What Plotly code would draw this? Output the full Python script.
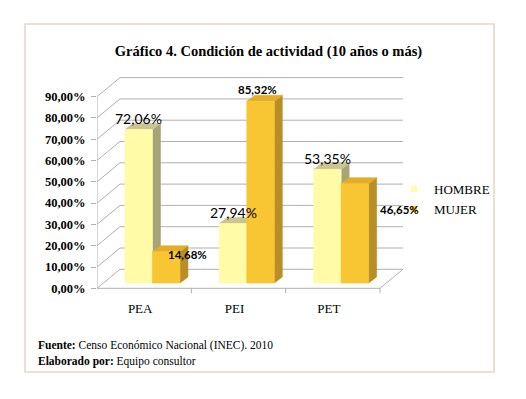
import plotly.graph_objects as go

# ---------------- data ----------------
categories = ["PEA", "PEI", "PET"]
series_names = ["HOMBRE", "MUJER"]
hombre = [72.06, 27.94, 53.35]
mujer = [14.68, 85.32, 46.65]
y_tick_values = [0, 10, 20, 30, 40, 50, 60, 70, 80, 90]
y_tick_labels = ["0,00%", "10,00%", "20,00%", "30,00%", "40,00%",
                 "50,00%", "60,00%", "70,00%", "80,00%", "90,00%"]
title_text = "<b>Gráfico 4. Condición de actividad (10 años o más)</b>"
source_text = "<b>Fuente:</b> Censo Económico Nacional (INEC). 2010"
author_text = "<b>Elaborado por:</b> Equipo consultor"

# ---------------- geometry / style ----------------
OFF = 8               # page body margin (figure starts at page px 8,8)
W, H = 526 - 2 * OFF, 399 - 2 * OFF
# plot area in page pixels
PL, PR, PT, PB = 97, 410, 70, 296
L, T = PL - OFF, PT - OFF
R, B = W - (PR - OFF), H - (PB - OFF)
PLOT_W = PR - PL
PLOT_H = PB - PT
PX_X = 94.33          # px per category unit
PX_Y = 2.13           # px per percent
ZERO_PX = 288.3       # page y pixel of 0 %
X_RANGE = [-0.5, -0.5 + PLOT_W / PX_X]
Y_RANGE = [-(PB - ZERO_PX) / PX_Y, (ZERO_PX - PT) / PX_Y]

WALL_DX, WALL_DY = 23 / PX_X, 19 / PX_Y        # back-wall depth
BAR_W = 27.5 / PX_X
BAR_SHIFT = 8.3 / PX_X
BAR_BASE = 5.3 / PX_Y
BAR_DX, BAR_DY = 8 / PX_X, 6 / PX_Y
GRID = "#b0b0b0"
SERIF = "Liberation Serif"

COLORS = {
    "HOMBRE": {"front": "#fffba6", "top": "#cbc690", "side": "#a8a479"},
    "MUJER": {"front": "#f8c633", "top": "#e3ad2a", "side": "#b88f26"},
}
LABEL_SHIFT = {
    "HOMBRE": [(0, 11), (0, 11), (0, 11)],
    "MUJER": [(21, -3), (-3, 12), (45, -26)],
}
LABEL_FONT = {
    "HOMBRE": dict(family="Lato", size=14, color="#000000"),
    "MUJER": dict(family="Lato", size=11.5, color="#000000", weight="bold"),
}


def px_x(px):
    return (px - PL) / PLOT_W


def px_y(py):
    return (PB - py) / PLOT_H


fig = go.Figure()


def poly(xs, ys, color):
    fig.add_trace(go.Scatter(
        x=xs + [xs[0]], y=ys + [ys[0]], mode="lines", fill="toself",
        fillcolor=color, line=dict(color=color, width=0.6),
        hoverinfo="skip", showlegend=False))


def line(xs, ys):
    fig.add_trace(go.Scatter(
        x=xs, y=ys, mode="lines", line=dict(color=GRID, width=1),
        hoverinfo="skip", showlegend=False))


# back wall gridlines + left wall diagonals
x_front_left = -0.5
x_front_right = len(categories) - 0.5
for v in y_tick_values:
    line([x_front_left, x_front_left + WALL_DX, x_front_right + WALL_DX],
         [v, v + WALL_DY, v + WALL_DY])
# front vertical axis
line([x_front_left, x_front_left], [0, y_tick_values[-1]])
# floor front edge + right diagonal
line([x_front_left, x_front_right, x_front_right + WALL_DX], [0, 0, WALL_DY])
# category tick marks on the floor
for i in range(len(categories)):
    line([i + 0.5, i + 0.5], [0, -5 / PX_Y])

# bars (3D boxes)
for i in range(len(categories)):
    for name, vals in zip(series_names, [hombre, mujer]):
        v = vals[i]
        c = COLORS[name]
        if name == "HOMBRE":
            x0, x1 = i + BAR_SHIFT - BAR_W, i + BAR_SHIFT
        else:
            x0, x1 = i + BAR_SHIFT, i + BAR_SHIFT + BAR_W
        b, t = BAR_BASE, BAR_BASE + v
        poly([x1, x1 + BAR_DX, x1 + BAR_DX, x1],
             [b, b + BAR_DY, t + BAR_DY, t], c["side"])
        poly([x0, x1, x1 + BAR_DX, x0 + BAR_DX],
             [t, t, t + BAR_DY, t + BAR_DY], c["top"])
        poly([x0, x1, x1, x0], [b, b, t, t], c["front"])

# data labels
annotations = []
for name, vals in zip(series_names, [hombre, mujer]):
    for i, v in enumerate(vals):
        if name == "HOMBRE":
            xc = i + BAR_SHIFT - BAR_W / 2
        else:
            xc = i + BAR_SHIFT + BAR_W / 2
        dx, dy = LABEL_SHIFT[name][i]
        annotations.append(dict(
            x=xc, y=BAR_BASE + v, xref="x", yref="y",
            text=f"{v:.2f}".replace(".", ",") + "%",
            showarrow=False, xanchor="center", yanchor="middle",
            xshift=dx, yshift=dy, font=LABEL_FONT[name]))

# legend entries
for name in series_names:
    fig.add_trace(go.Scatter(
        x=[None], y=[None], mode="markers", name=name,
        marker=dict(symbol="square", size=6, color=COLORS[name]["front"],
                    line=dict(width=0))))

# footer notes
for txt, yy in [(source_text, 345), (author_text, 361)]:
    annotations.append(dict(x=px_x(36), y=px_y(yy), xref="paper", yref="paper",
                            text=txt, showarrow=False, xanchor="left",
                            yanchor="middle",
                            font=dict(family=SERIF, size=11.5, color="#000")))

shapes = [dict(type="rect", xref="paper", yref="paper",
               x0=px_x(25), x1=px_x(494), y0=px_y(372), y1=px_y(24),
               line=dict(color="#e6d6c6", width=1.5), fillcolor="rgba(0,0,0,0)",
               layer="below")]

fig.update_layout(
    width=W, height=H,
    margin=dict(l=L, r=R, t=T, b=B, autoexpand=False),
    font=dict(family=SERIF, color="#000"),
    paper_bgcolor="white", plot_bgcolor="rgba(0,0,0,0)",
    title=dict(text=title_text, x=px_x(268.5), xref="paper", xanchor="center",
               y=1 - (50.5 - OFF) / H, yref="container", yanchor="middle",
               font=dict(family=SERIF, size=14.5, color="#000")),
    xaxis=dict(range=X_RANGE, tickvals=list(range(len(categories))),
               ticktext=categories, showgrid=False, zeroline=False,
               showline=False, ticks="", ticklabelstandoff=3,
               ticklabelshift=-4,
               tickfont=dict(family=SERIF, size=13, color="#000"),
               fixedrange=True),
    yaxis=dict(range=Y_RANGE, tickvals=y_tick_values, ticktext=y_tick_labels,
               showgrid=False, zeroline=False, showline=False,
               ticks="outside", ticklen=5, tickcolor=GRID,
               ticklabelstandoff=3,
               tickfont=dict(family=SERIF, size=12.5, color="#000",
                             weight="bold"),
               fixedrange=True),
    legend=dict(x=px_x(394), y=px_y(174), xanchor="left", yanchor="top",
                bgcolor="rgba(0,0,0,0)", borderwidth=0,
                font=dict(family=SERIF, size=13, color="#000"),
                itemwidth=30, tracegroupgap=0),
    annotations=annotations,
    shapes=shapes,
)

fig.write_html("out.html")
